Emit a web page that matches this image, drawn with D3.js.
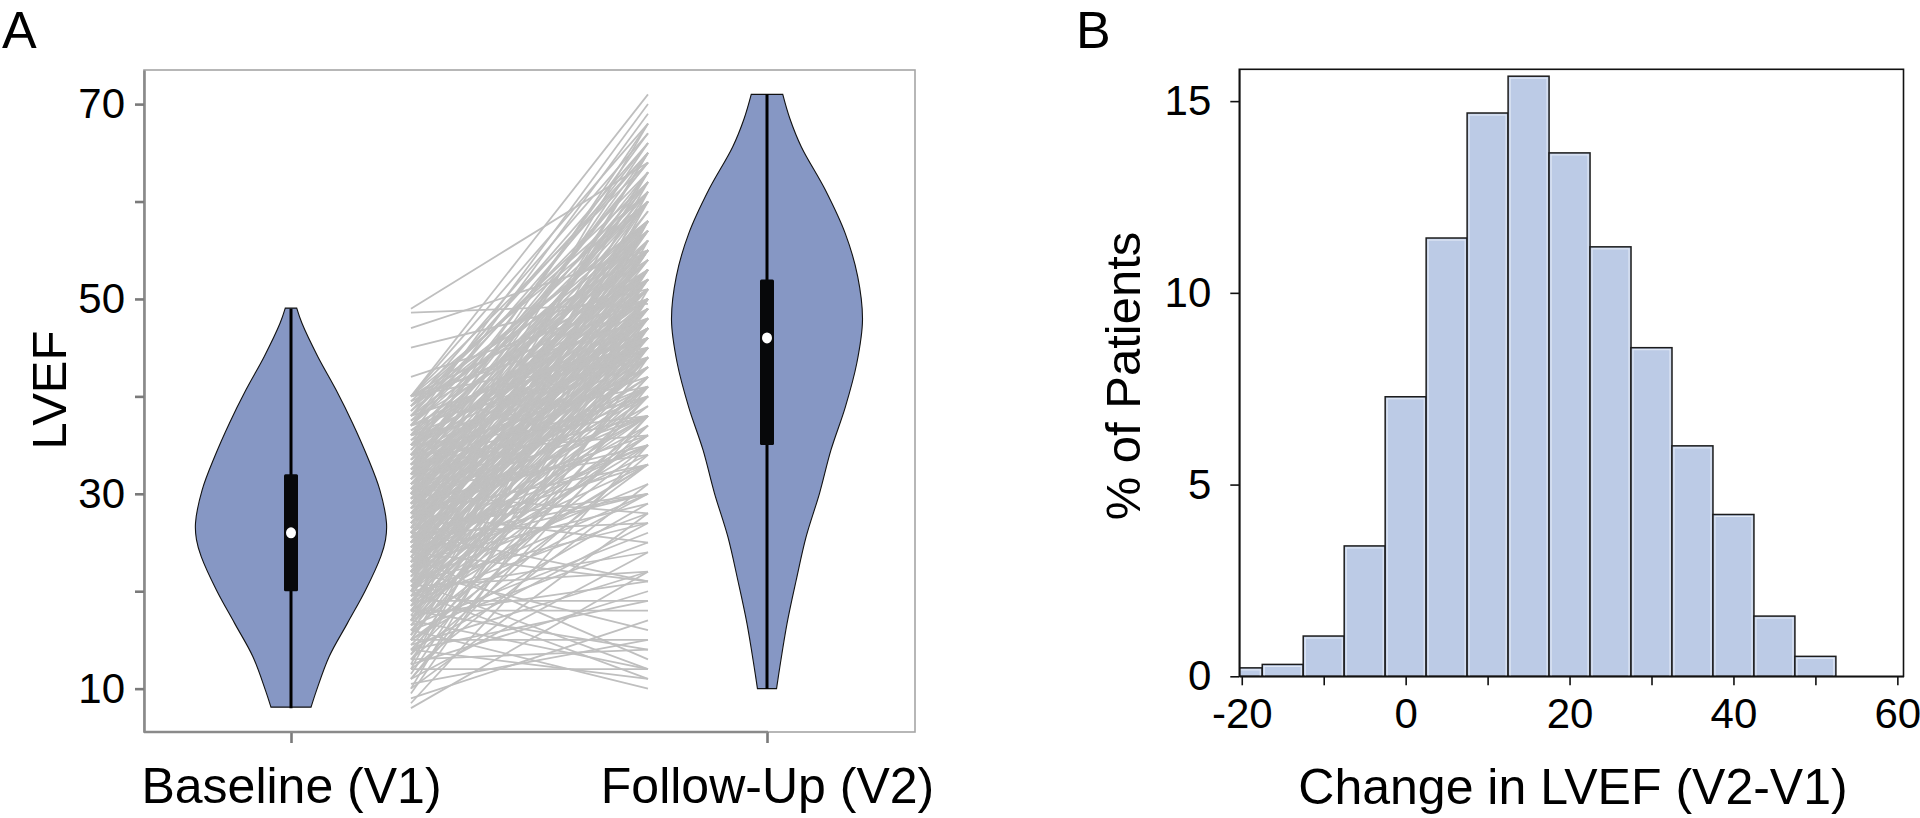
<!DOCTYPE html>
<html><head><meta charset="utf-8">
<script src="https://cdn.jsdelivr.net/npm/d3@7"></script>
<style>html,body{margin:0;padding:0;background:#fff;} svg{display:block;}</style>
</head><body><svg id="chart" width="1920" height="818"></svg>
<script>
// ---------------- DATA ----------------
const categories = ["Baseline (V1)", "Follow-Up (V2)"];
const yTicksA = [10, 20, 30, 40, 50, 60, 70];
const yTickLabelsA = [10, 30, 50, 70];

// violin outlines: LVEF value and relative half-width
const baselineProfileLVEF = [8.1, 9.9, 13.3, 16.7, 20.1, 23.55, 25.3, 27.0, 30.4, 33.8, 37.25, 40.7, 44.1, 47.5, 49.06];
const baselineProfileWidth = [0.21, 0.27, 0.40, 0.59, 0.78, 0.94, 0.99, 1.0, 0.93, 0.80, 0.645, 0.47, 0.28, 0.115, 0.06];
const followProfileLVEF = [10.0, 12.2, 16.7, 21.1, 25.6, 30.05, 34.5, 38.9, 43.4, 47.85, 52.3, 56.7, 61.2, 65.6, 68.5, 71.0];
const followProfileWidth = [0.10, 0.134, 0.21, 0.305, 0.41, 0.55, 0.67, 0.82, 0.94, 1.0, 0.95, 0.82, 0.61, 0.36, 0.24, 0.165];

// box statistics: min, Q1, median, Q3, max
const baselineStats = [8, 20, 26, 32, 49];
const followStats = [10, 35, 46, 52, 71];

// paired patient values (V1 -> V2)
const lvefV1 = [
  8, 8.5, 9, 9.5, 10, 10,
  10.5, 11, 11, 11.5, 12, 12, 12, 11,
  12.5, 13, 13, 13, 13.5, 14, 14, 14, 12.5, 13.5,
  14.5, 15, 15, 15, 15, 15.5, 16, 16, 16, 14.5, 15.5, 16, 15, 14,
  16.5, 17, 17, 17, 17, 17.5, 18, 18, 18, 16.5, 17, 17.5, 18, 18, 16.5, 17, 18,
  18.5, 19, 19, 19, 19.5, 20, 20, 20, 20, 18.5, 19, 19.5, 20, 20, 18.5, 19, 19.5, 20, 20, 19,
  20.5, 21, 21, 21, 21, 21.5, 22, 22, 22, 22, 20.5, 21, 21.5, 22, 22, 20.5, 21, 21.5, 22, 22, 21, 20.5, 22,
  22.5, 23, 23, 23, 23, 23.5, 24, 24, 24, 24, 22.5, 23, 23.5, 24, 24, 22.5, 23, 23.5, 24, 24, 22.5, 23, 23.5, 24, 24, 23,
  24.5, 25, 25, 25, 25, 25, 25.5, 26, 26, 26, 26, 24.5, 25, 25.5, 26, 26, 24.5, 25, 25.5, 26, 26, 25, 25.5, 26, 24.5, 26,
  26.5, 27, 27, 27, 27, 27.5, 28, 28, 28, 28, 26.5, 27, 27.5, 28, 28, 26.5, 27, 27.5, 28, 28, 26.5, 27, 27.5, 28, 28, 27,
  28.5, 29, 29, 29, 29, 29.5, 30, 30, 30, 30, 28.5, 29, 29.5, 30, 30, 28.5, 29, 29.5, 30, 30, 28.5, 29, 29.5, 30, 30,
  30.5, 31, 31, 31, 31, 31.5, 32, 32, 32, 32, 30.5, 31, 31.5, 32, 32, 30.5, 31, 31.5, 32, 32, 31, 30.5, 32, 31.5,
  32.5, 33, 33, 33, 33, 33.5, 34, 34, 34, 34, 32.5, 33, 33.5, 34, 34, 32.5, 33, 33.5, 34, 34, 33,
  34.5, 35, 35, 35, 35, 35, 35, 35.5, 36, 36, 36, 34.5, 35, 35.5, 36, 36, 35, 36,
  36.5, 37, 37, 37, 37, 37.5, 38, 38, 38, 36.5, 37, 37.5, 38, 38, 37,
  38.5, 39, 39, 39, 39.5, 40, 40, 40, 40, 40, 38.5, 39, 40, 40, 39.5, 40,
  42, 45, 47, 48.6, 49
];
const lvefV2 = [
  22, 35, 17, 44, 28, 51,
  15, 38, 24, 47, 12, 31, 56, 41,
  20, 45, 14, 34, 50, 27, 11, 40, 58, 37,
  22, 48, 15, 33, 53, 42, 25, 45, 10, 38, 61, 35, 29, 19,
  47, 30, 52, 12, 40, 21, 44, 55, 36, 26, 60, 49, 18, 33, 42, 46, 14,
  41, 50, 28, 47, 37, 55, 24, 44, 62, 33, 19, 53, 39, 48, 58, 43, 30, 11, 50, 36,
  45, 52, 38, 27, 58, 47, 41, 63, 33, 50, 22, 44, 55, 36, 16, 49, 31, 40, 46, 57, 12, 35, 52,
  48, 40, 54, 29, 45, 60, 37, 50, 43, 65, 34, 47, 52, 21, 56, 44, 38, 13, 47, 30, 53, 58, 41, 49, 35, 46,
  50, 42, 57, 35, 47, 61, 44, 53, 39, 48, 27, 55, 30, 46, 59, 43, 38, 51, 65, 21, 50, 45, 33, 56, 47, 41,
  52, 46, 58, 40, 49, 63, 44, 54, 36, 48, 30, 55, 47, 60, 25, 43, 51, 38, 57, 46, 68, 42, 53, 49, 33, 45,
  50, 56, 44, 62, 47, 38, 53, 58, 45, 66, 41, 51, 59, 28, 48, 55, 35, 46, 52, 43, 63, 49, 54, 40, 57,
  47, 55, 60, 43, 51, 65, 48, 57, 38, 53, 62, 46, 52, 44, 68, 34, 58, 49, 61, 50, 41, 56, 46, 54,
  52, 58, 46, 63, 49, 55, 42, 60, 51, 67, 45, 54, 48, 57, 36, 61, 50, 64, 47, 53, 40,
  56, 50, 62, 45, 58, 53, 66, 48, 60, 55, 41, 64, 47, 57, 51, 69, 38, 46,
  55, 61, 49, 58, 65, 52, 57, 63, 46, 50, 70, 60, 53, 66, 44,
  58, 62, 54, 67, 50, 60, 64, 55, 71, 48, 65, 58, 52, 68, 61, 45,
  50, 51, 55, 49.5, 64
];

// histogram of change (V2 - V1): bin start and % of patients
const binStart = [-22.5, -17.5, -12.5, -7.5, -2.5, 2.5, 7.5, 12.5, 17.5, 22.5, 27.5, 32.5, 37.5, 42.5, 47.5];
const binPercent = [0.22, 0.31, 1.05, 3.40, 7.29, 11.43, 14.69, 15.65, 13.65, 11.20, 8.57, 6.01, 4.22, 1.57, 0.52];
const xTicksB = [-20, -10, 0, 10, 20, 30, 40, 50, 60];
const xTickLabelsB = [-20, 0, 20, 40, 60];
const yTicksB = [0, 5, 10, 15];

// ---------------- DRAW ----------------
const FONT = '"Liberation Sans", Arial, Helvetica, sans-serif';
const svg = d3.select("#chart").attr("font-family", FONT);

// ===== Panel A =====
const A = {left: 144, right: 915, top: 70, bottom: 732};
const yA = d3.scaleLinear().domain([5.55, 73.5]).range([A.bottom, A.top]);
const xA = d3.scalePoint().domain(categories).range([291, 767]);
const xRel = d3.scaleLinear().domain([0, 1]).range([xA(categories[0]), xA(categories[1])]);
const halfW = d3.scaleLinear().domain([0, 1]).range([0, 95.5]);

svg.append("rect")
  .attr("x", A.left).attr("y", A.top)
  .attr("width", A.right - A.left).attr("height", A.bottom - A.top)
  .attr("fill", "none").attr("stroke", "#a6a6a6").attr("stroke-width", 1.6);

// paired lines
svg.append("g")
  .attr("stroke", "#bfbfbf").attr("stroke-width", 1.75)
  .selectAll("line").data(d3.range(lvefV1.length)).join("line")
  .attr("x1", xRel(0.252)).attr("x2", xRel(0.75))
  .attr("y1", i => yA(lvefV1[i])).attr("y2", i => yA(lvefV2[i]));

function violin(vals, widths, stats, cat) {
  const cx = xA(cat);
  const pts = vals.map((v, i) => ({v: v, w: widths[i]}));
  const area = d3.area()
    .y(d => yA(d.v))
    .x0(d => cx - halfW(d.w))
    .x1(d => cx + halfW(d.w))
    .curve(d3.curveCatmullRom.alpha(0.5));
  svg.append("path").datum(pts).attr("d", area)
    .attr("fill", "#8697c4").attr("stroke", "#111").attr("stroke-width", 1.1);
  svg.append("line")
    .attr("x1", cx).attr("x2", cx)
    .attr("y1", yA(stats[0])).attr("y2", yA(stats[4]))
    .attr("stroke", "#000").attr("stroke-width", 3);
  svg.append("rect")
    .attr("x", cx - 7).attr("width", 14)
    .attr("y", yA(stats[3])).attr("height", yA(stats[1]) - yA(stats[3]))
    .attr("rx", 1.5).attr("fill", "#07080a");
  svg.append("ellipse")
    .attr("cx", cx).attr("cy", yA(stats[2]))
    .attr("rx", 5).attr("ry", 5.5).attr("fill", "#fff");
}
violin(baselineProfileLVEF, baselineProfileWidth, baselineStats, categories[0]);
violin(followProfileLVEF, followProfileWidth, followStats, categories[1]);

// axes A
const axA = svg.append("g").attr("transform", `translate(${A.left},0)`)
  .call(d3.axisLeft(yA).tickValues(yTicksA).tickSize(9).tickSizeOuter(0).tickPadding(10)
    .tickFormat(d => yTickLabelsA.includes(d) ? String(d) : ""));
axA.attr("font-family", FONT).attr("font-size", 42);
axA.select(".domain").attr("stroke", "#8a8a8a").attr("stroke-width", 2.6);
axA.selectAll(".tick line").attr("stroke", "#7a7a7a").attr("stroke-width", 2.6);
axA.selectAll(".tick text").attr("fill", "#000");

const axAB = svg.append("g").attr("transform", `translate(0,${A.bottom})`)
  .call(d3.axisBottom(xA).tickSize(11).tickSizeOuter(0));
axAB.attr("font-family", FONT).attr("font-size", 50);
axAB.select(".domain").remove();
axAB.selectAll(".tick line").attr("stroke", "#7a7a7a").attr("stroke-width", 2.6);
axAB.selectAll(".tick text").attr("fill", "#000").attr("y", 803 - A.bottom).attr("dy", 0);
svg.append("line").attr("x1", A.left).attr("x2", xA(categories[1]) + 1)
  .attr("y1", A.bottom).attr("y2", A.bottom)
  .attr("stroke", "#8a8a8a").attr("stroke-width", 2.6);

svg.append("text").attr("transform", "translate(66,390) rotate(-90)")
  .attr("text-anchor", "middle").attr("font-size", 49).text("LVEF");
svg.append("text").attr("x", 2).attr("y", 48).attr("font-size", 52).text("A");

// ===== Panel B =====
const B = {left: 1239.3, right: 1903.5, top: 69.3, bottom: 676.3};
const xB = d3.scaleLinear().domain([-20.3, 60.75]).range([B.left, B.right]);
const yB = d3.scaleLinear().domain([0, 15.83]).range([B.bottom, B.top]);

svg.append("clipPath").attr("id", "clipB").append("rect")
  .attr("x", B.left).attr("y", B.top).attr("width", B.right - B.left).attr("height", B.bottom - B.top);

const bars = svg.append("g").attr("clip-path", "url(#clipB)");
bars.selectAll("rect.bar").data(binStart).join("rect").attr("class", "bar")
  .attr("x", d => xB(d)).attr("width", d => xB(d + 5) - xB(d))
  .attr("y", (d, i) => yB(binPercent[i])).attr("height", (d, i) => yB(0) - yB(binPercent[i]))
  .attr("fill", "#bccbe6").attr("stroke", "#1c1c1c").attr("stroke-width", 1.5);
bars.selectAll("rect.hl").data(binStart).join("rect").attr("class", "hl")
  .attr("x", d => xB(d) + 2).attr("width", d => xB(d + 5) - xB(d) - 4)
  .attr("y", (d, i) => yB(binPercent[i]) + 2).attr("height", (d, i) => Math.max(0, yB(0) - yB(binPercent[i]) - 2))
  .attr("fill", "none").attr("stroke", "#e6ecf7").attr("stroke-width", 1);

svg.append("rect")
  .attr("x", B.left).attr("y", B.top)
  .attr("width", B.right - B.left).attr("height", B.bottom - B.top)
  .attr("fill", "none").attr("stroke", "#111").attr("stroke-width", 1.6);

const axBL = svg.append("g").attr("transform", `translate(${B.left},0)`)
  .call(d3.axisLeft(yB).tickValues(yTicksB).tickSize(9).tickSizeOuter(0).tickPadding(19)
    .tickFormat(d => String(d)));
axBL.attr("font-family", FONT).attr("font-size", 42);
axBL.select(".domain").attr("stroke", "#111").attr("stroke-width", 1.6);
axBL.selectAll(".tick line").attr("stroke", "#111").attr("stroke-width", 1.6);
axBL.selectAll(".tick text").attr("fill", "#000");

const axBB = svg.append("g").attr("transform", `translate(0,${B.bottom})`)
  .call(d3.axisBottom(xB).tickValues(xTicksB).tickSize(9).tickSizeOuter(0)
    .tickFormat(d => xTickLabelsB.includes(d) ? String(d) : ""));
axBB.attr("font-family", FONT).attr("font-size", 42);
axBB.select(".domain").attr("stroke", "#111").attr("stroke-width", 1.6);
axBB.selectAll(".tick line").attr("stroke", "#111").attr("stroke-width", 1.6);
axBB.selectAll(".tick text").attr("fill", "#000").attr("y", 728 - B.bottom).attr("dy", 0);

svg.append("text").attr("x", 1573).attr("y", 804).attr("text-anchor", "middle")
  .attr("font-size", 50).text("Change in LVEF (V2-V1)");
svg.append("text").attr("transform", "translate(1140,376) rotate(-90)")
  .attr("text-anchor", "middle").attr("font-size", 49).text("% of Patients");
svg.append("text").attr("x", 1076).attr("y", 48).attr("font-size", 52).text("B");
</script>
</body></html>
